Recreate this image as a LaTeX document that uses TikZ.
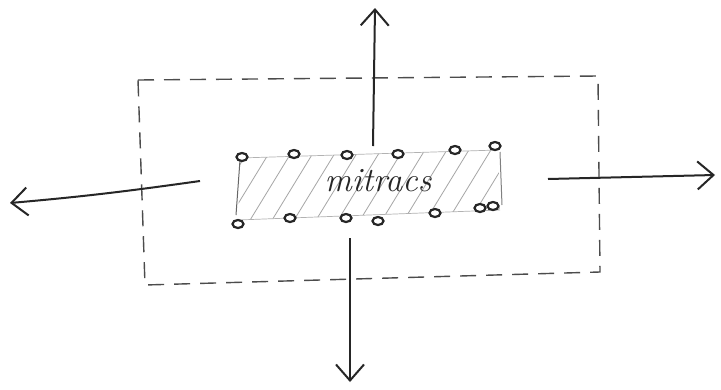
\documentclass[tikz,border=0pt]{standalone}
\usetikzlibrary{arrows.meta,shapes.geometric}
\begin{document}
\begin{tikzpicture}[x=1pt,y=-1pt,
  frame/.style={draw=black!70,line width=1.4pt,dash pattern=on 16pt off 10pt},
  flow/.style={draw=black!85,line width=2pt,-{Straight Barb[length=16pt,width=28pt,line width=2pt]}},
  dot/.style={draw=black!85,line width=2.2pt,fill=white,ellipse,inner sep=0pt,minimum width=11pt,minimum height=8pt},
  hatch/.style={draw=black!35,line width=0.8pt},
  lbl/.style={font=\fontsize{34}{34}\selectfont\itshape,inner sep=1pt,text=black!85}]
\useasboundingbox (0,0) rectangle (721,389);
\fill[white] (0,0) rectangle (721,389);
% outer dashed frame
\draw[frame] (138,80) -- (598,76) -- (600,272) -- (145,285) -- cycle;
% inner hatched band
\begin{scope}
\clip (240,158) -- (498,150) -- (500,210) -- (238,220) -- cycle;
\foreach \i in {0,...,16}{
  \draw[hatch] (200+\i*22,230) -- (255+\i*22,140);
}
\end{scope}
\draw[black!30,line width=0.7pt] (240,158) -- (498,150);
\draw[black!30,line width=0.7pt] (238,220) -- (500,210);
\draw[black!60,line width=1pt] (240,160) -- (236,215);
\draw[black!50,line width=1pt] (500,152) -- (502,205);
% label
\node[lbl] (m) at (378,181) {mitracs};
% dots
\foreach \p/\n in {{(242,157)}/a1,{(294,154)}/a2,{(347,155)}/a3,{(398,154)}/a4,{(455,150)}/a5,{(495,146)}/a6,
  {(238,224)}/b1,{(290,218)}/b2,{(346,218)}/b3,{(378,221)}/b4,{(435,213)}/b5,{(480,208)}/b6,{(493,206)}/b7}
  \node[dot] (\n) at \p {};
% arrows
\coordinate (u0) at (373,146);
\coordinate (u1) at (375,8);
\coordinate (l0) at (200,181);
\coordinate (l1) at (10,203);
\coordinate (r0) at (548,179);
\coordinate (r1) at (715,175);
\coordinate (d0) at (350,238);
\coordinate (d1) at (350,382);
\draw[flow] (u0) -- (u1);
\draw[flow] (l0) to[out=188,in=5] (l1);
\draw[flow] (r0) -- (r1);
\draw[flow] (d0) -- (d1);
\end{tikzpicture}
\end{document}
